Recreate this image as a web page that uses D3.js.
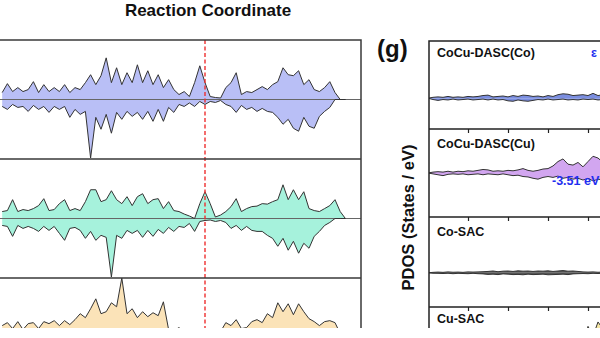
<!DOCTYPE html>
<html><head><meta charset="utf-8">
<script src="https://cdn.jsdelivr.net/npm/d3@7"></script>
<style>html,body{margin:0;padding:0;background:#fff;overflow:hidden}svg{display:block;font-family:"Liberation Sans",Arial,sans-serif}</style>
</head><body>
<svg id="c" width="600" height="338"></svg>
<script>
// ---- energy grids (eV) ----
const leftStartE = -7.8, leftStepE = 0.2;
const rightStartE = -10, rightStepE = 0.25;
const rightTicks = [-8, -6, -4, -2];

// ---- left panels: spin-up / spin-down PDOS ----
const p1Up = [0.7,1.6,0.8,1.2,0.8,1.0,1.8,0.7,1.5,0.8, 1.2,0.8,1.5,0.7,1.2,1.0,1.7,2.5,1.5,2.4, 4.2,1.7,3.2,1.5,2.7,1.7,3.5,1.7,2.9,1.5, 2.5,1.2,2.0,1.0,0.5,0.8,0.3,1.7,3.4,1.7, 0.3,0.2,0.15,1.2,1.7,2.7,0.5,0.8,0.7,1.0, 1.3,1.0,1.5,1.8,3.2,2.5,2.4,2.9,1.5,2.0, 1.0,0.8,1.2,1.8,0.7,0,0];
const p1Down = [-0.7,-1.0,-0.5,-0.8,-0.7,-1.2,-0.6,-1.0,-0.7,-1.3, -0.7,-1.0,-0.7,-1.8,-1.0,-1.5,-1.2,-5.9,-1.8,-3.0, -1.5,-3.4,-1.3,-2.0,-1.2,-1.7,-1.3,-2.0,-1.2,-2.2, -1.0,-2.2,-0.8,-1.3,-0.5,-0.7,-0.35,-0.7,-0.2,-0.5, -0.2,-0.3,-0.1,-0.5,-0.7,-1.3,-0.6,-1.0,-0.8,-1.2, -0.9,-1.2,-1.3,-1.8,-2.5,-2.0,-2.9,-3.2,-1.8,-2.7, -2.9,-1.7,-1.2,-0.8,0,0,0];
const p2Up = [0.7,0.8,1.9,0.7,0.9,0.8,1.0,1.3,2.0,0.8, 0.9,1.5,1.9,0.8,1.0,0.8,1.7,2.9,2.9,1.7, 1.9,2.8,1.9,1.5,2.2,1.3,2.2,2.5,1.5,1.9, 2.0,1.0,1.7,0.8,0.7,0.45,0.25,0,1.5,2.7, 1.5,0.15,0.35,0.7,1.2,2.0,0.7,1.0,1.2,1.25, 1.5,1.45,1.7,1.9,3.4,1.9,2.9,1.9,2.7,1.0, 0.8,0.7,1.0,1.3,1.9,0.7,0];
const p2Down = [-0.7,-0.8,-1.8,-0.7,-1.0,-0.8,-1.0,-1.3,-0.8,-1.2, -0.8,-1.5,-2.2,-1.0,-0.9,-1.2,-2.0,-1.3,-2.2,-1.7, -1.9,-5.9,-1.7,-2.0,-1.2,-1.5,-1.2,-1.9,-1.2,-1.8, -1.1,-1.5,-0.9,-1.3,-0.8,-0.9,-0.5,-1.3,-0.3,-0.2, -0.15,-0.3,-0.2,-0.4,-1.0,-0.7,-1.2,-0.8,-1.2,-1.3, -1.3,-1.7,-2.0,-2.8,-2.0,-3.2,-2.3,-3.5,-2.5,-3.0, -1.8,-1.3,-0.7,-0.4,0,0,0];
const p3Up = [1.2,1.5,0.9,1.6,0.8,1.4,1.5,0.9,1.6,1.4, 1.7,1.2,1.7,1.3,1.8,2.4,2.0,2.9,3.9,2.4, 2.6,3.5,3.1,6.0,2.4,2.9,2.0,2.6,2.1,2.5, 2.2,3.6,0.8,0.7,1.0,0.5,0.4,0.3,0.2,0.2, 0.2,0.3,0.6,1.5,1.2,1.8,0.9,1.0,1.6,1.8, 1.5,2.4,2.0,3.5,2.6,3.4,2.3,3.4,2.6,1.9, 1.6,1.2,1.6,1.7,1.5,0.4,0];

// ---- right panels (g) ----
const rightLabels = ["CoCu-DASC(Co)", "CoCu-DASC(Cu)", "Co-SAC", "Cu-SAC"];
const coCuCoUp = [0,0.1,0.15,0.1,0.2,0.1,0.15,0.1,0.2,0.15, 0.2,0.3,0.35,0.15,0.2,0.25,0.15,0.3,0.2,0.35, 0.3,0.2,0.25,0.15,0.3,0.2,0.4,0.5,0.45,0.3, 0.35,0.4,0.3,0.55,0.3,0.4,0.3];
const coCuCoDown = [0,-0.15,-0.25,-0.15,-0.2,-0.1,-0.2,-0.15,-0.1,-0.2, -0.15,-0.1,-0.2,-0.1,-0.2,-0.15,-0.3,-0.35,-0.2,-0.3, -0.35,-0.25,-0.15,-0.2,-0.1,-0.2,-0.15,-0.1,-0.2,-0.15, -0.2,-0.1,-0.15,-0.1,-0.2,-0.15,-0.2];
const coCuCuUp = [0,0.1,0.15,0.1,0.2,0.1,0.2,0.15,0.25,0.2, 0.3,0.4,0.35,0.2,0.25,0.2,0.3,0.25,0.35,0.5, 0.3,0.2,0.3,0.45,0.5,0.8,1.3,1.6,1.0,0.9, 1.2,0.7,1.3,1.9,1.7,1.2,1.0];
const coCuCuDown = [0,-0.1,-0.2,-0.3,-0.15,-0.1,-0.15,-0.1,-0.2,-0.15, -0.1,-0.2,-0.1,-0.15,-0.2,-0.1,-0.2,-0.3,-0.25,-0.4, -0.45,-0.6,-0.7,-0.5,-0.4,-0.5,-0.35,-0.6,-0.5,-0.7, -0.6,-0.8,-0.6,-0.9,-0.7,-0.8,-0.7];
const coSacUp = [0,0.05,0.08,0.05,0.1,0.06,0.08,0.05,0.1,0.08, 0.1,0.12,0.15,0.2,0.12,0.18,0.2,0.15,0.22,0.18, 0.2,0.15,0.2,0.18,0.22,0.15,0.2,0.25,0.18,0.2, 0.15,0.1,0.08,0.1,0.06,0.08,0.05];
const coSacDown = [0,-0.05,-0.06,-0.08,-0.05,-0.1,-0.06,-0.08,-0.1,-0.06, -0.1,-0.12,-0.18,-0.15,-0.2,-0.12,-0.15,-0.2,-0.18,-0.22, -0.15,-0.2,-0.18,-0.15,-0.22,-0.2,-0.18,-0.15,-0.2,-0.12, -0.1,-0.08,-0.1,-0.06,-0.08,-0.05,-0.06];
const cuSacUp = [0.3,0.5,0.35,0.6,0.4,0.55,0.7,0.5,0.8,0.6, 0.9,0.75,1.0,0.8,1.1,0.9,1.2,1.0,1.3,1.1, 1.5,1.2,1.6,1.4,1.8,1.5,2.0,1.7,2.3,2.0, 2.4,2.2,4.3,3.2,4.8,4.0,3.5];
const cuDbandLabel = "-3.51 eV";
const coDbandLabel = "\u03b5";

// ---- layout ----
const svg = d3.select("#c");
const defs = svg.append("defs");
const xL = d3.scaleLinear().domain([-9, 6]).range([-29, 361]);
const xR = d3.scaleLinear().domain([-10, 4]).range([428, 708]);

function drawSpin(g, x, y, start, step, vals, fill) {
  const area = d3.area().x((d, i) => x(start + step * i)).y0(y(0)).y1(d => y(d));
  const line = d3.line().x((d, i) => x(start + step * i)).y(d => y(d));
  g.append("path").datum(vals).attr("d", area).attr("fill", fill).attr("stroke", "none");
  return () => g.append("path").datum(vals).attr("d", line).attr("fill", "none")
      .attr("stroke", "#333").attr("stroke-width", 1).attr("stroke-linejoin", "round");
}

// left panels
const leftPanels = [
  {top: 40, bottom: 159, up: p1Up, down: p1Down, fill: "#b9bff6"},
  {top: 159, bottom: 278, up: p2Up, down: p2Down, fill: "#a6f2dc"},
  {top: 278, bottom: 397, up: p3Up, down: null, fill: "#fbe3b8"}
];
leftPanels.forEach((p, k) => {
  const y = d3.scaleLinear().domain([-6, 6]).range([p.bottom, p.top]);
  defs.append("clipPath").attr("id", "cl" + k).append("rect")
    .attr("x", -40).attr("y", p.top).attr("width", 401).attr("height", p.bottom - p.top);
  const g = svg.append("g").attr("clip-path", `url(#cl${k})`);
  const l1 = drawSpin(g, xL, y, leftStartE, leftStepE, p.up, p.fill);
  const l2 = p.down ? drawSpin(g, xL, y, leftStartE, leftStepE, p.down, p.fill) : null;
  g.append("line").attr("x1", -40).attr("x2", 361).attr("y1", y(0)).attr("y2", y(0))
    .attr("stroke", "#666").attr("stroke-width", 1);
  l1(); if (l2) l2();
});
// Fermi level
svg.append("line").attr("x1", xL(0)).attr("x2", xL(0)).attr("y1", 40).attr("y2", 338)
  .attr("stroke", "#ee3030").attr("stroke-width", 1.4).attr("stroke-dasharray", "4,2.5");
// left frame
svg.append("path").attr("d", "M-40,40H361V338 M-40,159H361 M-40,278H361")
  .attr("fill", "none").attr("stroke", "#3a3a3a").attr("stroke-width", 1.5);

// right panels
const rightPanels = [
  {top: 41, bottom: 129, dom: [-3.5, 6.5], up: coCuCoUp, down: coCuCoDown, fill: "#7b8ee0"},
  {top: 129, bottom: 217, dom: [-5, 5], up: coCuCuUp, down: coCuCuDown, fill: "#d2a6f0"},
  {top: 217, bottom: 307, dom: [-3.8, 6.2], up: coSacUp, down: coSacDown, fill: "#555"},
  {top: 307, bottom: 395, dom: [-3.5, 6.5], up: cuSacUp, down: null, fill: "#f6e7a6"}
];
rightPanels.forEach((p, k) => {
  const y = d3.scaleLinear().domain(p.dom).range([p.bottom, p.top]);
  defs.append("clipPath").attr("id", "cr" + k).append("rect")
    .attr("x", 429).attr("y", p.top).attr("width", 300).attr("height", p.bottom - p.top);
  const g = svg.append("g").attr("clip-path", `url(#cr${k})`);
  const l1 = drawSpin(g, xR, y, rightStartE, rightStepE, p.up, p.fill);
  const l2 = p.down ? drawSpin(g, xR, y, rightStartE, rightStepE, p.down, p.fill) : null;
  l1(); if (l2) l2();
  svg.append("text").attr("x", 437).attr("y", [57, 148, 236, 323][k])
    .attr("font-size", 12.5).attr("font-weight", "bold").attr("fill", "#111").text(rightLabels[k]);
  const ax = svg.append("g").attr("transform", `translate(0,${p.bottom})`)
    .call(d3.axisBottom(xR).tickValues(rightTicks).tickSize(4).tickSizeOuter(0).tickFormat(""));
  ax.select(".domain").remove();
  ax.selectAll(".tick line").attr("stroke", "#222").attr("stroke-width", 1.2);
});
svg.append("path").attr("d", "M429,338V41H610 M429,129H610 M429,217H610 M429,307H610")
  .attr("fill", "none").attr("stroke", "#222").attr("stroke-width", 1.5);

svg.append("text").attr("x", 591).attr("y", 57).attr("font-size", 12.5).attr("font-weight", "bold")
  .attr("fill", "#1f2ff0").text(coDbandLabel);
svg.append("text").attr("x", 552).attr("y", 185).attr("font-size", 12.5).attr("font-weight", "bold")
  .attr("fill", "#1f2ff0").text(cuDbandLabel);

svg.append("text").attr("x", 377).attr("y", 57).attr("font-size", 24).attr("font-weight", "bold")
  .attr("fill", "#111").text("(g)");
svg.append("text").attr("transform", "translate(414,217.5) rotate(-90)").attr("text-anchor", "middle")
  .attr("font-size", 16.5).attr("font-weight", "bold").attr("fill", "#111").text("PDOS (States / eV)");
svg.append("text").attr("x", 208).attr("y", 16).attr("text-anchor", "middle")
  .attr("font-size", 17).attr("font-weight", "bold").attr("fill", "#111").text("Reaction Coordinate");

// cropped bottom margin of the source figure
svg.append("rect").attr("x", 0).attr("y", 328).attr("width", 600).attr("height", 10).attr("fill", "#fff");
</script>
</body></html>
